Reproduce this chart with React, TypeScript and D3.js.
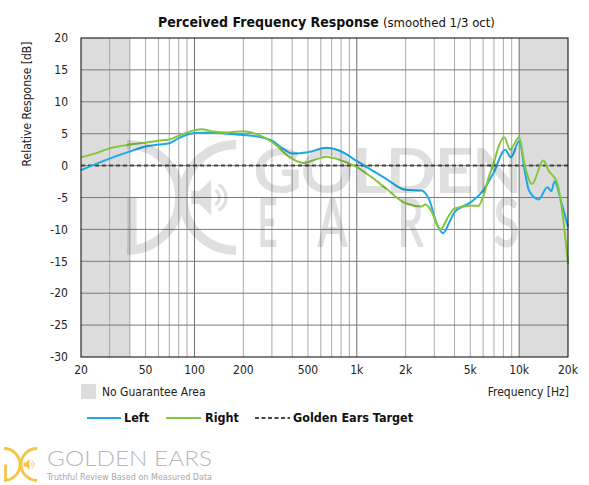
import * as d3 from 'd3';
import { useEffect, useRef } from 'react';

// measured curves (Hz, dB)
const leftFreq = [20, 25, 30, 40, 50, 60, 70, 80, 100, 130, 160, 200, 250, 300, 350, 400, 500, 650, 800, 1000, 1200, 1500, 2000, 2500, 2800, 3100, 3400, 3700, 4000, 5000, 6000, 7000, 8200, 8900, 10000, 11000, 11500, 13200, 14900, 15800, 16500, 18300, 20000];
const leftDb = [-0.7, 0.3, 1.1, 2.2, 3.0, 3.3, 3.5, 4.3, 5.1, 5.2, 5.0, 4.8, 4.5, 3.9, 2.7, 1.9, 2.1, 2.8, 2.25, 0.7, -0.5, -2.0, -3.8, -3.9, -5.4, -9.0, -10.6, -9.0, -7.3, -5.8, -3.9, -1.0, 2.5, 1.3, 3.8, -1.8, -3.9, -5.3, -3.4, -4.0, -2.5, -6.0, -9.6];

const rightFreq = [20, 25, 30, 40, 50, 60, 70, 80, 90, 110, 130, 160, 200, 230, 300, 400, 470, 550, 650, 750, 1000, 1200, 1500, 2000, 2500, 2650, 2900, 3260, 3700, 4000, 5000, 5600, 6000, 6500, 7000, 7500, 8100, 8800, 10000, 10800, 12000, 14100, 15200, 17100, 18300, 20000];
const rightDb = [1.3, 2.0, 2.7, 3.3, 3.6, 3.9, 4.1, 4.7, 5.2, 5.7, 5.35, 5.2, 5.4, 5.1, 3.7, 1.05, 0.4, 0.9, 1.4, 1.05, -0.25, -1.6, -3.5, -5.9, -6.4, -6.1, -7.3, -10.0, -7.8, -6.7, -6.3, -6.3, -4.9, -1.8, 0.5, 3.1, 4.45, 2.5, 4.45, 0.25, -2.9, 0.8, -0.8, -2.6, -6.6, -15.4];

const targetFreq = [20, 20000];
const targetDb = [0, 0];

const freqTicks = [20, 50, 100, 200, 500, 1000, 2000, 5000, 10000, 20000];
const freqTickLabels = ['20', '50', '100', '200', '500', '1k', '2k', '5k', '10k', '20k'];
const dbTicks = [20, 15, 10, 5, 0, -5, -10, -15, -20, -25, -30];
const noGuaranteeBands = [[20, 40], [10000, 20000]];

const FONT = "Tahoma, 'DejaVu Sans Condensed', 'DejaVu Sans', sans-serif";
const THIN = "Lato, 'Open Sans', 'DejaVu Sans', sans-serif";
const LEFT_COLOR = '#1ca9e6';
const RIGHT_COLOR = '#84c73c';

// the little D/C + speaker mark, drawn in a 33x33 box
const drawLogo = (g: any, ox: number, oy: number, s: number, color: string, opacity: number) => {
  const lg = g.append('g')
    .attr('transform', `translate(${ox},${oy}) scale(${s})`)
    .attr('opacity', opacity);
  const p1 = d3.path();
  p1.moveTo(0, 0.5);
  p1.arc(0, 16.5, 16, -Math.PI / 2, Math.PI / 2, false);
  p1.moveTo(1.5, 16.5);
  p1.lineTo(1.5, 33);
  const p2 = d3.path();
  p2.moveTo(33, 0.5);
  p2.arc(33, 16.5, 16, -Math.PI / 2, Math.PI / 2, true);
  lg.append('path').attr('d', p1.toString()).attr('fill', 'none').attr('stroke', color).attr('stroke-width', 2.8);
  lg.append('path').attr('d', p2.toString()).attr('fill', 'none').attr('stroke', color).attr('stroke-width', 2.8);
  lg.append('path')
    .attr('d', 'M19.5,14.5 H22 L25.5,11 V22 L22,18.5 H19.5 Z')
    .attr('fill', color);
  const w = d3.path();
  w.arc(25.5, 16.5, 2.5, -Math.PI / 3, Math.PI / 3, false);
  w.moveTo(25.5 + 4.5 * Math.cos(-Math.PI / 3), 16.5 + 4.5 * Math.sin(-Math.PI / 3));
  w.arc(25.5, 16.5, 4.5, -Math.PI / 3, Math.PI / 3, false);
  lg.append('path').attr('d', w.toString()).attr('fill', 'none').attr('stroke', color).attr('stroke-width', 1);
};

const App = () => {
  const ref = useRef<SVGSVGElement>(null);

  useEffect(() => {
    const svg = d3.select(ref.current);
    svg.selectAll('*').remove();

    const margin = { top: 38, right: 21, bottom: 128, left: 81 };
    const width = 589 - margin.left - margin.right;
    const height = 485 - margin.top - margin.bottom;

    const x = d3.scaleLog().domain([20, 20000]).range([0, width]);
    const y = d3.scaleLinear().domain([-30, 20]).range([height, 0]);

    svg.append('rect').attr('width', 589).attr('height', 485).attr('fill', '#fff');

    const chart = svg.append('g').attr('transform', `translate(${margin.left},${margin.top})`);

    // no guarantee areas
    chart.selectAll('rect.band')
      .data(noGuaranteeBands)
      .enter()
      .append('rect')
      .attr('class', 'band')
      .attr('x', d => x(d[0]))
      .attr('y', 0)
      .attr('width', d => x(d[1]) - x(d[0]))
      .attr('height', height)
      .attr('fill', '#dcdcdc');

    // vertical grid
    const gridFreqs: number[] = [];
    [10, 100, 1000, 10000].forEach(dec => {
      for (let m = 1; m <= 9; m++) {
        const f = m * dec;
        if (f > 20 && f < 20000) gridFreqs.push(f);
      }
    });
    chart.selectAll('line.vgrid')
      .data(gridFreqs)
      .enter()
      .append('line')
      .attr('x1', d => x(d)).attr('x2', d => x(d))
      .attr('y1', 0).attr('y2', height)
      .attr('stroke', d => (d === 100 || d === 1000 || d === 10000 ? '#6e6e6e' : '#aaaaaa'))
      .attr('stroke-width', 1);

    // horizontal grid
    chart.selectAll('line.hgrid')
      .data(dbTicks.filter(d => d !== 20 && d !== -30))
      .enter()
      .append('line')
      .attr('x1', 0).attr('x2', width)
      .attr('y1', d => y(d)).attr('y2', d => y(d))
      .attr('stroke', '#7a7a7a')
      .attr('stroke-width', 1);

    // watermark
    const wm = svg.append('g')
      .attr('opacity', 0.12)
      .attr('fill', '#000')
      .attr('stroke', '#000')
      .attr('stroke-width', 2.2)
      .attr('stroke-linejoin', 'round');
    drawLogo(svg, 127, 143, 3.3, '#000', 0.12);
    wm.append('text')
      .attr('x', 254).attr('y', 192)
      .attr('font-family', THIN).attr('font-weight', 400).attr('font-size', 60)
      .attr('textLength', 268).attr('lengthAdjust', 'spacingAndGlyphs')
      .text('GOLDEN');
    const earsLetters = [['E', 258, 19], ['A', 318, 29], ['R', 398, 25], ['S', 494, 25]];
    earsLetters.forEach(([ch, lx, lw]) => {
      wm.append('text')
        .attr('x', lx as number).attr('y', 246)
        .attr('font-family', THIN).attr('font-weight', 400).attr('font-size', 66)
        .attr('textLength', lw as number).attr('lengthAdjust', 'spacingAndGlyphs')
        .text(ch as string);
    });

    // target
    const line = d3.line<[number, number]>()
      .x(d => x(d[0]))
      .y(d => y(d[1]))
      .curve(d3.curveMonotoneX);

    chart.append('path')
      .attr('d', line(targetFreq.map((f, i) => [f, targetDb[i]]) as [number, number][]))
      .attr('fill', 'none')
      .attr('stroke', '#444')
      .attr('stroke-width', 2)
      .attr('stroke-dasharray', '4,3');

    chart.append('path')
      .attr('d', line(leftFreq.map((f, i) => [f, leftDb[i]]) as [number, number][]))
      .attr('fill', 'none')
      .attr('stroke', LEFT_COLOR)
      .attr('stroke-width', 2);

    chart.append('path')
      .attr('d', line(rightFreq.map((f, i) => [f, rightDb[i]]) as [number, number][]))
      .attr('fill', 'none')
      .attr('stroke', RIGHT_COLOR)
      .attr('stroke-width', 2);

    // frame
    chart.append('rect')
      .attr('width', width).attr('height', height)
      .attr('fill', 'none').attr('stroke', '#000').attr('stroke-width', 1);

    // tick labels
    chart.selectAll('text.ytick')
      .data(dbTicks)
      .enter()
      .append('text')
      .attr('x', -13)
      .attr('y', d => y(d))
      .attr('dy', '0.35em')
      .attr('text-anchor', 'end')
      .attr('font-family', FONT).attr('font-size', 12).attr('fill', '#222')
      .text(d => String(d));

    chart.selectAll('text.xtick')
      .data(freqTicks)
      .enter()
      .append('text')
      .attr('x', d => x(d))
      .attr('y', height + 17)
      .attr('text-anchor', 'middle')
      .attr('font-family', FONT).attr('font-size', 12).attr('fill', '#222')
      .text((d, i) => freqTickLabels[i]);

    // title
    const title = svg.append('text')
      .attr('x', 158).attr('y', 27)
      .attr('font-family', FONT).attr('fill', '#111');
    title.append('tspan').attr('font-weight', 'bold').attr('font-size', 14).text('Perceived Frequency Response');
    title.append('tspan').attr('font-size', 13).attr('dx', 4).text('(smoothed 1/3 oct)');

    // axis titles
    svg.append('text')
      .attr('transform', 'translate(31,104) rotate(-90)')
      .attr('text-anchor', 'middle')
      .attr('font-family', FONT).attr('font-size', 12).attr('fill', '#222')
      .text('Relative Response [dB]');

    svg.append('text')
      .attr('x', 569).attr('y', 396)
      .attr('text-anchor', 'end')
      .attr('font-family', FONT).attr('font-size', 12).attr('fill', '#222')
      .text('Frequency [Hz]');

    // legend
    svg.append('rect').attr('x', 81).attr('y', 384).attr('width', 15).attr('height', 15).attr('fill', '#dcdcdc');
    svg.append('text')
      .attr('x', 102).attr('y', 396)
      .attr('font-family', FONT).attr('font-size', 12).attr('fill', '#222')
      .text('No Guarantee Area');

    const legendItems = [
      { label: 'Left', color: LEFT_COLOR, dash: null, x0: 87, x1: 121, tx: 124 },
      { label: 'Right', color: RIGHT_COLOR, dash: null, x0: 166, x1: 201, tx: 205 },
      { label: 'Golden Ears Target', color: '#444', dash: '4,2.5', x0: 255, x1: 290, tx: 293 },
    ];
    legendItems.forEach(it => {
      svg.append('line')
        .attr('x1', it.x0).attr('x2', it.x1)
        .attr('y1', 418).attr('y2', 418)
        .attr('stroke', it.color).attr('stroke-width', 2)
        .attr('stroke-dasharray', it.dash);
      svg.append('text')
        .attr('x', it.tx).attr('y', 422)
        .attr('font-family', FONT).attr('font-weight', 'bold').attr('font-size', 12.5).attr('fill', '#111')
        .text(it.label);
    });

    // brand footer
    drawLogo(svg, 4, 448, 1, '#f6c544', 1);
    svg.append('text')
      .attr('x', 47).attr('y', 466)
      .attr('font-family', THIN).attr('font-weight', 300).attr('font-size', 22)
      .attr('textLength', 165).attr('lengthAdjust', 'spacingAndGlyphs')
      .attr('fill', '#b8b8b8')
      .text('GOLDEN EARS');
    svg.append('text')
      .attr('x', 47).attr('y', 479.5)
      .attr('font-family', FONT).attr('font-size', 9.5)
      .attr('textLength', 165).attr('lengthAdjust', 'spacingAndGlyphs')
      .attr('fill', '#a8a8a8')
      .text('Truthful Review Based on Measured Data');
  }, []);

  return <svg ref={ref} width={589} height={485} style={{ position: 'absolute', left: 0, top: 0 }} />;
};

export default App;
